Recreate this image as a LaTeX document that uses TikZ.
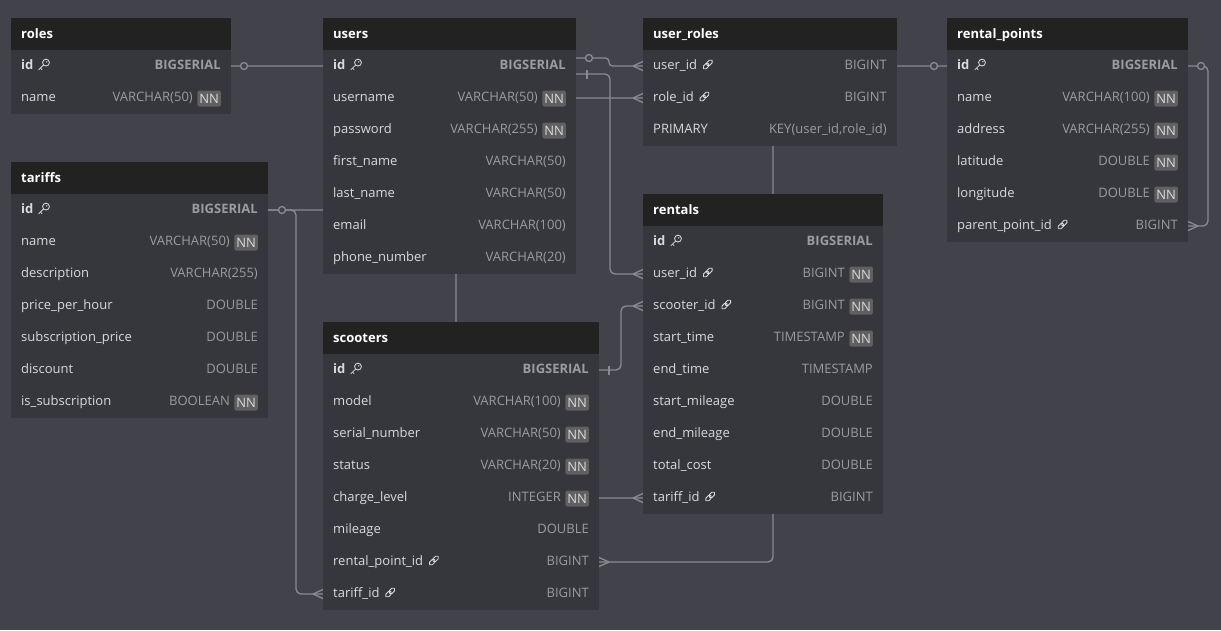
\documentclass[tikz,border=0pt]{standalone}
\usepackage{fontspec}
\setmainfont{Open Sans}
\definecolor{bgc}{RGB}{66,66,75}
\definecolor{bodyc}{RGB}{54,54,61}
\definecolor{headc}{RGB}{34,34,34}
\definecolor{namec}{RGB}{218,218,218}
\definecolor{typec}{RGB}{155,155,160}
\definecolor{nnc}{RGB}{96,96,96}
\definecolor{linec}{RGB}{138,138,148}
\pgfdeclarelayer{bgl}\pgfdeclarelayer{lines}\pgfsetlayers{bgl,lines,main}
\newcommand\erfs{\fontsize{13}{15}\selectfont}
\tikzset{
 tbody/.style={fill=bodyc, inner sep=0pt, anchor=north west},
 thead/.style={fill=headc, inner sep=0pt, anchor=north west, minimum height=32pt},
 ttitle/.style={anchor=base west, inner sep=0pt, text=white, font=\erfs\bfseries},
 fname/.style={anchor=base west, inner sep=0pt, text=namec, font=\erfs},
 ftype/.style={anchor=base east, inner sep=0pt, text=typec, font=\erfs},
 nnbadge/.style={anchor=east, fill=nnc, text=namec, font=\erfs, inner sep=0pt, minimum width=23.5pt, minimum height=16pt, rounded corners=1.5pt},
 icon/.style={draw=namec, line width=0.85pt},
 conn/.style={draw=linec, line width=1.3pt, rounded corners=5pt},
 keyic/.pic={
  \draw[icon] (1.9,-1.9) circle (3.4);
  \draw[icon] (-0.5,0.5) -- (-5.3,5.3);
  \draw[icon] (-3.6,3.6) -- (-2,5.2);
  \fill[namec] (2.7,-2.7) circle (0.75);
 },
 linkic/.pic={
  \draw[icon, rounded corners=1.6pt, rotate=45] (-5.8,-1.9) rectangle (0.9,1.9);
  \draw[icon, rounded corners=1.6pt, rotate=45] (-0.9,-1.9) rectangle (5.8,1.9);
 },
 noic/.pic={},
 crowL/.pic={\draw[conn] (-10,0)--(0,-4.5) (-10,0)--(0,4.5);},
 crowR/.pic={\draw[conn] (10,0)--(0,-4.5) (10,0)--(0,4.5);},
}
% table: id, xl, xr, top, bottom, title
\newcommand\etable[6]{%
 \node[tbody, minimum width={#3pt-#2pt}, minimum height={#5pt-#4pt}] (#1) at (#2,#4) {};
 \node[thead, minimum width={#3pt-#2pt}] (#1-h) at (#2,#4) {};
 \node[ttitle] (#1-title) at (#2+10,#4+20) {#6};}
% field: id, xl, xr, yc, name, type, icon
\newcommand\fld[7]{%
 \coordinate (#1-l) at (#2,#4); \coordinate (#1-r) at (#3,#4);
 \node[fname] (#1) at (#2+10,#4+3.5) {#5};
 \pic at ([xshift=10.5pt,yshift=5pt]#1.base east) {#7};
 \node[ftype] (#1-t) at (#3-10,#4+3.5) {#6};}
\newcommand\fldnn[7]{%
 \coordinate (#1-l) at (#2,#4); \coordinate (#1-r) at (#3,#4);
 \node[fname] (#1) at (#2+10,#4+3.5) {#5};
 \pic at ([xshift=10.5pt,yshift=5pt]#1.base east) {#7};
 \node[nnbadge] (#1-nn) at (#3-10,#4+0.5) {NN};
 \node[ftype] (#1-t) at (#3-38,#4+3.5) {#6};}
\begin{document}
\begin{tikzpicture}[x=1pt,y=-1pt]
\useasboundingbox (0,0) rectangle (1221,630);
\begin{pgfonlayer}{bgl}
\fill[bgc] (0,0) rectangle (1221,630);
\end{pgfonlayer}

% roles
\etable{ro}{11}{231}{18}{114}{roles}
\fld{ro-id}{11}{231}{66}{\bfseries id}{\bfseries BIGSERIAL}{keyic}
\fldnn{ro-name}{11}{231}{98}{name}{VARCHAR(50)}{noic}

% users
\etable{us}{323}{576}{18}{274}{users}
\fld{us-id}{323}{576}{66}{\bfseries id}{\bfseries BIGSERIAL}{keyic}
\fldnn{us-username}{323}{576}{98}{username}{VARCHAR(50)}{noic}
\fldnn{us-password}{323}{576}{130}{password}{VARCHAR(255)}{noic}
\fld{us-first}{323}{576}{162}{first\_name}{VARCHAR(50)}{noic}
\fld{us-last}{323}{576}{194}{last\_name}{VARCHAR(50)}{noic}
\fld{us-email}{323}{576}{226}{email}{VARCHAR(100)}{noic}
\fld{us-phone}{323}{576}{258}{phone\_number}{VARCHAR(20)}{noic}

% user_roles
\etable{ur}{643}{897}{18}{146}{user\_roles}
\fld{ur-user}{643}{897}{66}{user\_id}{BIGINT}{linkic}
\fld{ur-role}{643}{897}{98}{role\_id}{BIGINT}{linkic}
\fld{ur-pk}{643}{897}{130}{PRIMARY}{KEY(user\_id,role\_id)}{noic}

% rental_points
\etable{rp}{947}{1188}{18}{242}{rental\_points}
\fld{rp-id}{947}{1188}{66}{\bfseries id}{\bfseries BIGSERIAL}{keyic}
\fldnn{rp-name}{947}{1188}{98}{name}{VARCHAR(100)}{noic}
\fldnn{rp-address}{947}{1188}{130}{address}{VARCHAR(255)}{noic}
\fldnn{rp-lat}{947}{1188}{162}{latitude}{DOUBLE}{noic}
\fldnn{rp-lon}{947}{1188}{194}{longitude}{DOUBLE}{noic}
\fld{rp-parent}{947}{1188}{226}{parent\_point\_id}{BIGINT}{linkic}

% tariffs
\etable{tf}{11}{268}{162}{418}{tariffs}
\fld{tf-id}{11}{268}{210}{\bfseries id}{\bfseries BIGSERIAL}{keyic}
\fldnn{tf-name}{11}{268}{242}{name}{VARCHAR(50)}{noic}
\fld{tf-desc}{11}{268}{274}{description}{VARCHAR(255)}{noic}
\fld{tf-pph}{11}{268}{306}{price\_per\_hour}{DOUBLE}{noic}
\fld{tf-sp}{11}{268}{338}{subscription\_price}{DOUBLE}{noic}
\fld{tf-disc}{11}{268}{370}{discount}{DOUBLE}{noic}
\fldnn{tf-is}{11}{268}{402}{is\_subscription}{BOOLEAN}{noic}

% scooters
\etable{sc}{323}{599}{322}{610}{scooters}
\fld{sc-id}{323}{599}{370}{\bfseries id}{\bfseries BIGSERIAL}{keyic}
\fldnn{sc-model}{323}{599}{402}{model}{VARCHAR(100)}{noic}
\fldnn{sc-serial}{323}{599}{434}{serial\_number}{VARCHAR(50)}{noic}
\fldnn{sc-status}{323}{599}{466}{status}{VARCHAR(20)}{noic}
\fldnn{sc-charge}{323}{599}{498}{charge\_level}{INTEGER}{noic}
\fld{sc-mileage}{323}{599}{530}{mileage}{DOUBLE}{noic}
\fld{sc-rp}{323}{599}{562}{rental\_point\_id}{BIGINT}{linkic}
\fld{sc-tariff}{323}{599}{594}{tariff\_id}{BIGINT}{linkic}

% rentals
\etable{re}{643}{883}{194}{514}{rentals}
\fld{re-id}{643}{883}{242}{\bfseries id}{\bfseries BIGSERIAL}{keyic}
\fldnn{re-user}{643}{883}{274}{user\_id}{BIGINT}{linkic}
\fldnn{re-scooter}{643}{883}{306}{scooter\_id}{BIGINT}{linkic}
\fldnn{re-start}{643}{883}{338}{start\_time}{TIMESTAMP}{noic}
\fld{re-end}{643}{883}{370}{end\_time}{TIMESTAMP}{noic}
\fld{re-smil}{643}{883}{402}{start\_mileage}{DOUBLE}{noic}
\fld{re-emil}{643}{883}{434}{end\_mileage}{DOUBLE}{noic}
\fld{re-cost}{643}{883}{466}{total\_cost}{DOUBLE}{noic}
\fld{re-tariff}{643}{883}{498}{tariff\_id}{BIGINT}{linkic}

\begin{pgfonlayer}{lines}
\draw[conn] (ro-id-r) -- ++(219,0) |- (ur-role-l);
\draw[conn, rounded corners=3.5pt] ([yshift=8pt]us-id-r) -- ++(33,0) |- (ur-user-l);
\draw[conn] ([yshift=-8pt]us-id-r) -- ++(34,0) |- (re-user-l);
\draw[conn] (rp-id-l) -- ++(-174,0) |- (sc-rp-r);
\draw[conn] (rp-id-r) -- ++(20,0) |- (rp-parent-r);
\draw[conn] (tf-id-r) -- ++(28,0) |- (sc-tariff-l);
\draw[conn] (tf-id-r) -- ++(188,0) |- (re-tariff-l);
\draw[conn] (sc-id-r) -- ++(22,0) |- (re-scooter-l);
% optional / one markers
\draw[conn, fill=bgc] ([xshift=13pt]ro-id-r) circle (3.5);
\draw[conn, fill=bgc] ([xshift=13pt,yshift=8pt]us-id-r) circle (3.5);
\draw[conn] ([xshift=11pt,yshift=-3.5pt]us-id-r) -- ([xshift=11pt,yshift=-12.5pt]us-id-r);
\draw[conn, fill=bgc] ([xshift=-13pt]rp-id-l) circle (3.5);
\draw[conn, fill=bgc] ([xshift=13pt]rp-id-r) circle (3.5);
\draw[conn, fill=bgc] ([xshift=14pt]tf-id-r) circle (3.5);
\draw[conn] ([xshift=10pt,yshift=4.5pt]sc-id-r) -- ([xshift=10pt,yshift=-4.5pt]sc-id-r);
% many markers
\pic at (ur-user-l) {crowL};
\pic at (ur-role-l) {crowL};
\pic at (re-user-l) {crowL};
\pic at (re-scooter-l) {crowL};
\pic at (re-tariff-l) {crowL};
\pic at (sc-tariff-l) {crowL};
\pic at (sc-rp-r) {crowR};
\pic at (rp-parent-r) {crowR};
\end{pgfonlayer}
\end{tikzpicture}
\end{document}
